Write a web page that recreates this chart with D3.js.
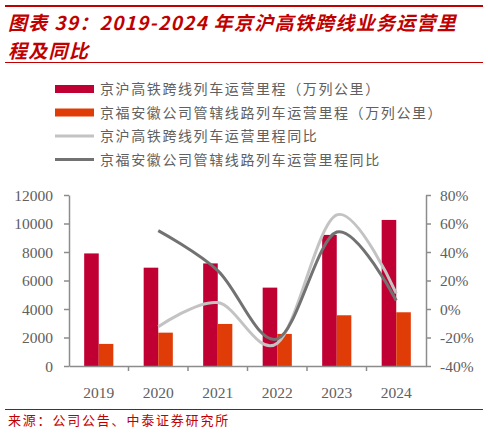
<!DOCTYPE html>
<html>
<head>
<meta charset="utf-8">
<script src="https://cdn.jsdelivr.net/npm/d3@7"></script>
<style>
  body { margin: 0; background: #fff; }
  svg { display: block; }
</style>
</head>
<body>
<div id="chart"></div>
<script>
// data
const years = ["2019", "2020", "2021", "2022", "2023", "2024"];
const jhMileage = [7900, 6900, 7200, 5500, 9200, 10250];   // 京沪高铁跨线列车运营里程
const jfMileage = [1550, 2340, 2950, 2250, 3560, 3770];    // 京福安徽公司管辖线路列车运营里程
const jhYoY = [null, -12.5, 4.5, -24, 66, 11];             // %
const jfYoY = [null, 55, 27, -21, 54, 6];                  // %
const leftTicks = [0, 2000, 4000, 6000, 8000, 10000, 12000];
const rightTicks = [-40, -20, 0, 20, 40, 60, 80];
const titleLines = ["图表 39：2019-2024 年京沪高铁跨线业务运营里", "程及同比"];
const legendNames = [
  "京沪高铁跨线列车运营里程（万列公里）",
  "京福安徽公司管辖线路列车运营里程（万列公里）",
  "京沪高铁跨线列车运营里程同比",
  "京福安徽公司管辖线路列车运营里程同比"
];

const W = 488, H = 433;
const red = "#C00000";
const barRed = "#C00033", barOrange = "#E03C08";
const lightGrey = "#C3C3C3", darkGrey = "#727272";
const axisGrey = "#8C8C8C", textGrey = "#606060";
const cjk = "'Noto Sans CJK SC', sans-serif";
const serif = "'Liberation Serif', serif";

const svg = d3.select("#chart").append("svg").attr("width", W).attr("height", H);

// title block
svg.append("line").attr("x1", 5).attr("x2", 483).attr("y1", 6).attr("y2", 6)
  .attr("stroke", red).attr("stroke-width", 2);
titleLines.forEach((t, i) => {
  svg.append("text").attr("x", 8).attr("y", 30 + i * 27.5)
    .attr("fill", red).style("font-family", cjk).style("font-weight", "bold")
    .style("font-style", "italic").style("font-size", "19px")
    .style("letter-spacing", "1.3px").text(t);
});
svg.append("line").attr("x1", 5).attr("x2", 483).attr("y1", 62.5).attr("y2", 62.5)
  .attr("stroke", red).attr("stroke-width", 1.2);

// legend
const legend = svg.append("g");
legendNames.forEach((name, i) => {
  const y = 89 + i * 23.5;
  if (i < 2) {
    legend.append("rect").attr("x", 55).attr("y", y - 4).attr("width", 39).attr("height", 8)
      .attr("fill", i === 0 ? barRed : barOrange);
  } else {
    legend.append("line").attr("x1", 55).attr("x2", 94).attr("y1", y).attr("y2", y)
      .attr("stroke", i === 2 ? lightGrey : darkGrey).attr("stroke-width", 3);
  }
  legend.append("text").attr("x", 100).attr("y", y + 5)
    .attr("fill", textGrey).style("font-family", cjk).style("font-size", "14px")
    .style("letter-spacing", "1.6px").text(name);
});

// scales
const margin = { left: 69, right: 426, top: 195, bottom: 366 };
const x = d3.scaleBand().domain(years).range([margin.left, margin.right]).padding(0);
const yL = d3.scaleLinear().domain([0, 12000]).range([margin.bottom, margin.top]);
const yR = d3.scaleLinear().domain([-40, 80]).range([margin.bottom, margin.top]);
const barW = x.bandwidth() * 0.245;

// bars
svg.append("g").selectAll("rect").data(years).join("rect")
  .attr("x", d => x(d) + x.bandwidth() / 2 - barW)
  .attr("y", (d, i) => yL(jhMileage[i]))
  .attr("width", barW)
  .attr("height", (d, i) => yL(0) - yL(jhMileage[i]))
  .attr("fill", barRed);
svg.append("g").selectAll("rect").data(years).join("rect")
  .attr("x", d => x(d) + x.bandwidth() / 2)
  .attr("y", (d, i) => yL(jfMileage[i]))
  .attr("width", barW)
  .attr("height", (d, i) => yL(0) - yL(jfMileage[i]))
  .attr("fill", barOrange);

// yoy lines
const line = d3.line()
  .x(d => x(d.year) + x.bandwidth() / 2)
  .y(d => yR(d.v))
  .curve(d3.curveCardinal.tension(0));
const toPts = arr => years.map((year, i) => ({ year, v: arr[i] })).filter(d => d.v != null);

svg.append("path").datum(toPts(jhYoY)).attr("d", line)
  .attr("fill", "none").attr("stroke", lightGrey).attr("stroke-width", 3);
svg.append("path").datum(toPts(jfYoY)).attr("d", line)
  .attr("fill", "none").attr("stroke", darkGrey).attr("stroke-width", 3);

// axes
const styleAxis = g => {
  g.selectAll(".domain").attr("stroke", axisGrey).attr("stroke-width", 1.5);
  g.selectAll(".tick line").attr("stroke", axisGrey).attr("stroke-width", 1.5);
  g.selectAll("text").attr("fill", textGrey).style("font-family", serif).style("font-size", "15.5px");
};

svg.append("g")
  .attr("transform", `translate(${margin.left},0)`)
  .call(d3.axisLeft(yL).tickValues(leftTicks).tickSize(5).tickPadding(11).tickSizeOuter(0)
    .tickFormat(d3.format("d")))
  .call(styleAxis)
  .call(g => g.selectAll("text").attr("dy", "0.35em"));

svg.append("g")
  .attr("transform", `translate(${margin.right},0)`)
  .call(d3.axisRight(yR).tickValues(rightTicks).tickSize(5).tickPadding(9).tickSizeOuter(0)
    .tickFormat(d => d + "%"))
  .call(styleAxis)
  .call(g => g.selectAll("text").attr("dy", "0.35em"));

const xAxis = svg.append("g")
  .attr("transform", `translate(0,${margin.bottom})`)
  .call(d3.axisBottom(x).tickSize(0).tickPadding(21).tickSizeOuter(0))
  .call(styleAxis);
// category separators under the axis
xAxis.selectAll(".sep").data(years.slice(1)).join("line").attr("class", "sep")
  .attr("x1", d => x(d)).attr("x2", d => x(d)).attr("y1", 0).attr("y2", 5)
  .attr("stroke", axisGrey).attr("stroke-width", 1.5);

// source
svg.append("line").attr("x1", 5).attr("x2", 483).attr("y1", 409.5).attr("y2", 409.5)
  .attr("stroke", red).attr("stroke-width", 1.2);
svg.append("text").attr("x", 8).attr("y", 425)
  .attr("fill", red).style("font-family", cjk).style("font-size", "13px")
  .style("letter-spacing", "1.8px").text("来源：公司公告、中泰证券研究所");
</script>
</body>
</html>
